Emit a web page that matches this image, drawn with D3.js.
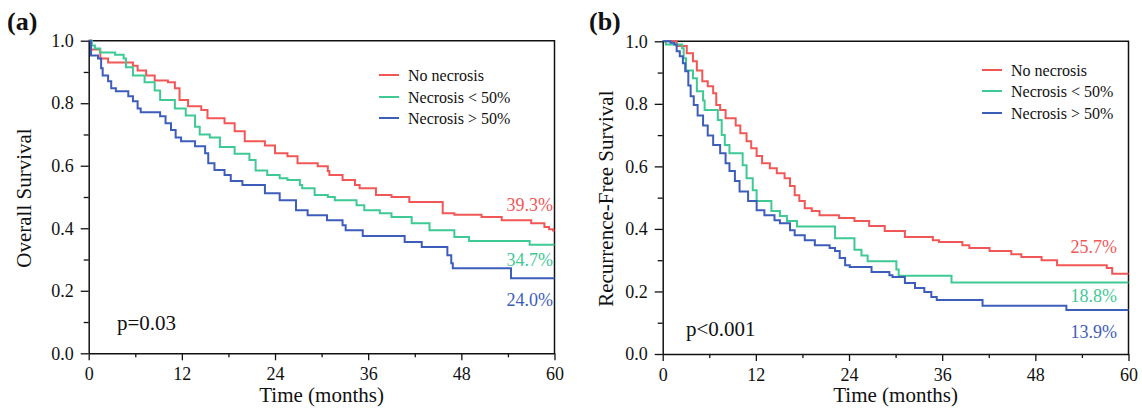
<!DOCTYPE html>
<html>
<head>
<meta charset="utf-8">
<script src="https://cdn.jsdelivr.net/npm/d3@7/dist/d3.min.js"></script>
<style>
	html, body { margin: 0; padding: 0; background: #fff; }
	svg { display: block; }
	text { font-family: "Liberation Serif", "Times New Roman", serif; fill: #111; }
</style>
</head>
<body>
<svg id="chart" width="1142" height="412"></svg>
<script>
// step points [month, survival]
var osNone = [[0,1],[0.3,0.972],[1.5,0.943],[2.5,0.93],[5.7,0.92],[6.3,0.905],[7.4,0.889],[8.5,0.873],[10.2,0.867],[11.1,0.848],[11.7,0.81],[12.8,0.79],[14.5,0.778],[15.3,0.752],[17.5,0.736],[18.8,0.71],[20.1,0.678],[22.7,0.665],[24.0,0.64],[25.6,0.63],[26.9,0.608],[29.5,0.598],[30.8,0.583],[31.0,0.57],[32.7,0.554],[34.3,0.538],[34.9,0.528],[37.0,0.506],[39.0,0.5],[41.3,0.484],[45.6,0.448],[47.1,0.443],[50.6,0.436],[53.2,0.426],[57.0,0.416],[58.7,0.404],[59.3,0.397],[59.8,0.393]];
var osLow = [[0,1],[0.4,0.985],[0.8,0.975],[1.45,0.962],[3.4,0.955],[4.5,0.943],[4.8,0.915],[5.7,0.889],[7.2,0.867],[8.5,0.841],[9.2,0.81],[11.1,0.783],[12.5,0.761],[13.7,0.725],[14.3,0.70],[15.6,0.69],[16.9,0.66],[18.8,0.638],[20.7,0.618],[21.5,0.585],[23.0,0.57],[24.6,0.56],[25.6,0.554],[27.2,0.538],[27.5,0.528],[29.1,0.506],[30.8,0.5],[31.7,0.49],[34.5,0.474],[35.5,0.458],[37.5,0.448],[39.0,0.436],[41.6,0.416],[43.9,0.394],[47.1,0.372],[49.0,0.359],[56.8,0.347]];
var osHigh = [[0,1],[0.3,0.953],[1.2,0.943],[1.6,0.912],[1.8,0.889],[2.5,0.87],[2.9,0.848],[3.5,0.838],[5.1,0.822],[5.7,0.806],[6.3,0.783],[6.7,0.771],[9.2,0.758],[9.9,0.736],[10.6,0.714],[11.2,0.69],[11.9,0.678],[13.7,0.662],[15.0,0.64],[15.4,0.608],[16.2,0.586],[17.5,0.57],[18.3,0.551],[19.8,0.538],[22.7,0.512],[24.6,0.49],[26.7,0.458],[28.2,0.442],[30.7,0.426],[32.7,0.41],[33.1,0.394],[35.3,0.375],[40.7,0.356],[42.9,0.34],[46.2,0.314],[46.7,0.288],[46.9,0.272],[54.4,0.24]];

var rfsNone = [[0,1],[1.8,0.985],[3.1,0.962],[3.9,0.936],[4.4,0.907],[5.1,0.872],[5.8,0.856],[6.5,0.834],[6.9,0.796],[7.4,0.78],[8.1,0.754],[9.4,0.731],[10.0,0.706],[10.8,0.68],[11.4,0.658],[12.1,0.633],[12.8,0.61],[13.8,0.594],[14.7,0.578],[15.7,0.562],[16.4,0.537],[17.0,0.508],[17.6,0.489],[18.3,0.466],[19.2,0.457],[20.2,0.444],[22.7,0.435],[24.7,0.425],[26.6,0.409],[28.6,0.393],[31.2,0.374],[34.8,0.364],[35.6,0.358],[38.6,0.348],[39.5,0.339],[42.1,0.329],[44.9,0.319],[46.2,0.31],[48.8,0.3],[50.8,0.284],[57.2,0.275],[57.9,0.257]];
var rfsLow = [[0,1],[0.4,0.99],[2.5,0.978],[2.7,0.946],[3.0,0.907],[3.9,0.882],[4.4,0.84],[5.2,0.811],[5.4,0.78],[7.1,0.748],[7.6,0.70],[8.0,0.668],[8.6,0.642],[10.3,0.604],[10.8,0.562],[11.6,0.524],[12.1,0.489],[14.0,0.457],[15.1,0.441],[16.0,0.425],[17.3,0.408],[22.2,0.37],[24.7,0.333],[25.6,0.315],[26.4,0.297],[30.1,0.27],[30.4,0.25],[37.2,0.229]];
var rfsHigh = [[0,1],[1.0,0.995],[1.5,0.99],[1.8,0.968],[2.2,0.952],[2.6,0.93],[2.9,0.904],[3.3,0.859],[3.6,0.824],[4.0,0.796],[4.5,0.763],[5.2,0.731],[5.8,0.699],[6.5,0.668],[7.4,0.642],[8.1,0.61],[8.6,0.585],[9.3,0.553],[9.9,0.52],[11.0,0.489],[12.1,0.46],[13.1,0.444],[14.4,0.428],[15.1,0.418],[16.4,0.396],[17.0,0.38],[18.3,0.364],[19.6,0.348],[21.5,0.339],[22.2,0.329],[22.8,0.307],[23.5,0.284],[24.1,0.278],[26.9,0.262],[29.2,0.252],[29.6,0.246],[31.2,0.227],[32.5,0.211],[33.7,0.198],[34.6,0.182],[35.3,0.173],[41.2,0.154],[52.0,0.141]];

var groups = ['No necrosis', 'Necrosis < 50%', 'Necrosis > 50%'];
var colors = ['#f25757', '#3fc994', '#3d5dbb'];
var osEndLabels = ['39.3%', '34.7%', '24.0%'];
var rfsEndLabels = ['25.7%', '18.8%', '13.9%'];
var xMajor = [0, 12, 24, 36, 48, 60];
var xMinor = [6, 18, 30, 42, 54];
var yMajor = [0, 0.2, 0.4, 0.6, 0.8, 1.0];
var yMinor = [0.1, 0.3, 0.5, 0.7, 0.9];

(function(){
	'use strict';

	var svg = d3.select('#chart');

	var panels = [
		{
			tag: '(a)', tagX: 7, yTitle: 'Overall Survival', titleX: 31,
			left: 88.7, right: 554.5, top: 40.7, bottom: 353.3,
			series: [osNone, osLow, osHigh], ends: osEndLabels,
			endY: [0.474, 0.298, 0.173], endX: 553,
			legX: 379, legY: [75, 97, 118],
			pText: 'p=0.03', pX: 117, pY: 330
		},
		{
			tag: '(b)', tagX: 589, yTitle: 'Recurrence-Free Survival', titleX: 613,
			left: 662.7, right: 1128.5, top: 41.3, bottom: 354,
			series: [rfsNone, rfsLow, rfsHigh], ends: rfsEndLabels,
			endY: [0.342, 0.185, 0.07], endX: 1117,
			legX: 982, legY: [70, 91, 113],
			pText: 'p<0.001', pX: 686, pY: 336
		}
	];

	panels.forEach(drawPanel);

	function drawPanel(p){
		var g = svg.append('g');
		var x = d3.scaleLinear().domain([0, 60]).range([p.left, p.right]);
		var y = d3.scaleLinear().domain([0, 1]).range([p.bottom, p.top]);

		// frame top + right
		g.append('path')
			.attr('d', 'M' + x(0) + ',' + y(1) + 'H' + x(60) + 'V' + y(0))
			.attr('fill', 'none')
			.attr('stroke', '#111')
			.attr('stroke-width', 1.5);

		// curves
		var line = d3.line()
			.x(function(d){ return x(d[0]); })
			.y(function(d){ return y(d[1]); })
			.curve(d3.curveStepAfter);

		p.series.forEach(function(s, i){
			var pts = s.concat([[60, s[s.length - 1][1]]]);
			g.append('path')
				.attr('d', line(pts))
				.attr('fill', 'none')
				.attr('stroke', colors[i])
				.attr('stroke-width', 2);
		});

		// axes
		var xAxis = g.append('g')
			.attr('transform', 'translate(0,' + y(0) + ')')
			.call(d3.axisBottom(x).tickValues(xMajor).tickSize(7).tickSizeOuter(0).tickPadding(7));
		g.append('g')
			.attr('transform', 'translate(0,' + y(0) + ')')
			.call(d3.axisBottom(x).tickValues(xMinor).tickSize(4).tickSizeOuter(0).tickFormat(''))
			.select('.domain').remove();

		var yAxis = g.append('g')
			.attr('transform', 'translate(' + x(0) + ',0)')
			.call(d3.axisLeft(y).tickValues(yMajor).tickSize(8).tickSizeOuter(0).tickPadding(7).tickFormat(d3.format('.1f')));
		g.append('g')
			.attr('transform', 'translate(' + x(0) + ',0)')
			.call(d3.axisLeft(y).tickValues(yMinor).tickSize(5).tickSizeOuter(0).tickFormat(''))
			.select('.domain').remove();

		g.selectAll('.domain').attr('stroke', '#111').attr('stroke-width', 1.5);
		g.selectAll('.tick line').attr('stroke', '#111').attr('stroke-width', 1.3);
		g.selectAll('.tick text')
			.attr('font-family', '"Liberation Serif", "Times New Roman", serif')
			.attr('font-size', 18)
			.attr('fill', '#111');

		// titles
		g.append('text')
			.attr('x', (x(0) + x(60)) / 2)
			.attr('y', 402)
			.attr('text-anchor', 'middle')
			.attr('font-size', 21)
			.text('Time (months)');

		g.append('text')
			.attr('transform', 'translate(' + p.titleX + ',' + ((y(0) + y(1)) / 2 + 1) + ') rotate(-90)')
			.attr('text-anchor', 'middle')
			.attr('font-size', 21)
			.text(p.yTitle);

		g.append('text')
			.attr('x', p.tagX)
			.attr('y', 30)
			.attr('font-size', 26)
			.attr('font-weight', 'bold')
			.text(p.tag);

		// legend
		groups.forEach(function(name, i){
			g.append('line')
				.attr('x1', p.legX).attr('x2', p.legX + 20)
				.attr('y1', p.legY[i]).attr('y2', p.legY[i])
				.attr('stroke', colors[i])
				.attr('stroke-width', 2);
			g.append('text')
				.attr('x', p.legX + 29)
				.attr('y', p.legY[i])
				.attr('dy', '0.35em')
				.attr('font-size', 16)
				.text(name);
		});

		// end-of-curve percentages
		p.ends.forEach(function(lbl, i){
			g.append('text')
				.attr('x', p.endX)
				.attr('y', y(p.endY[i]))
				.attr('dy', '0.35em')
				.attr('text-anchor', 'end')
				.attr('font-size', 18)
				.style('fill', colors[i])
				.text(lbl);
		});

		g.append('text')
			.attr('x', p.pX)
			.attr('y', p.pY)
			.attr('font-size', 21)
			.text(p.pText);
	}

})();
</script>
</body>
</html>
